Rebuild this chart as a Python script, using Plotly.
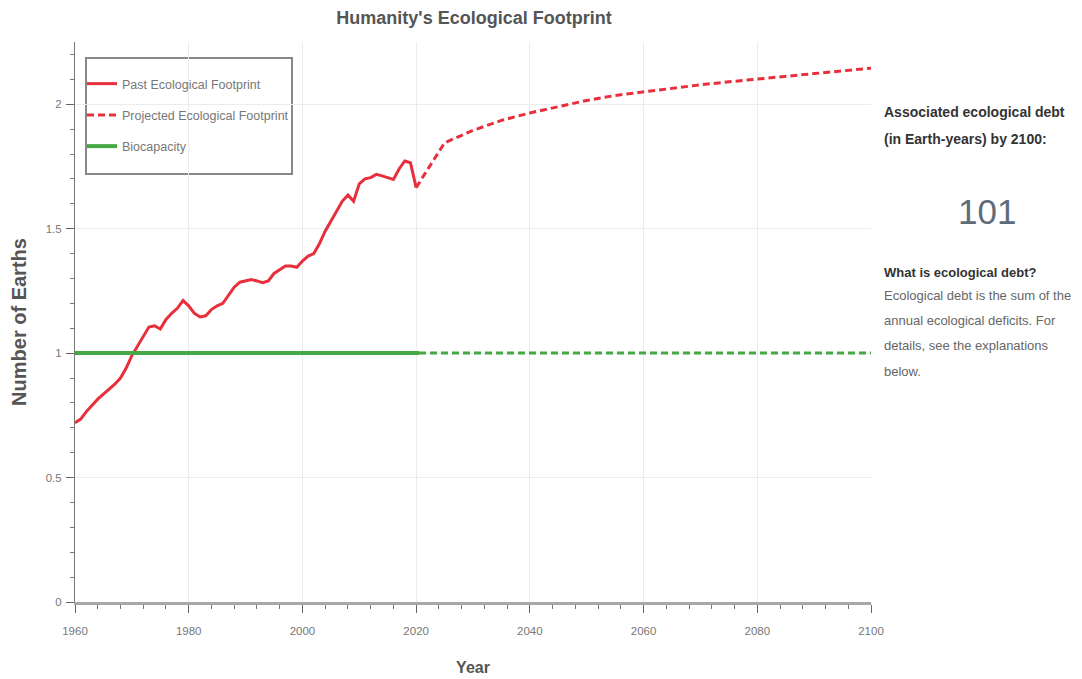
import plotly.graph_objects as go

# ---- data ----
past_years = list(range(1960, 2021))
past_values = [0.72, 0.735, 0.765, 0.79, 0.815, 0.835, 0.855, 0.875, 0.90, 0.94,
               0.99, 1.03, 1.065, 1.105, 1.11, 1.097, 1.135, 1.16, 1.18, 1.211,
               1.19, 1.16, 1.145, 1.15, 1.175, 1.19, 1.20, 1.23, 1.265, 1.285,
               1.29, 1.296, 1.29, 1.283, 1.29, 1.32, 1.335, 1.35, 1.35, 1.345,
               1.37, 1.39, 1.40, 1.44, 1.49, 1.53, 1.575, 1.61, 1.635, 1.61,
               1.68, 1.70, 1.705, 1.718, 1.712, 1.705, 1.698, 1.74, 1.772, 1.765,
               1.665]
proj_years = [2020, 2025, 2030, 2035, 2040, 2045, 2050, 2055, 2060, 2065, 2070,
              2075, 2080, 2085, 2090, 2095, 2100]
proj_values = [1.665, 1.845, 1.895, 1.935, 1.965, 1.99, 2.015, 2.035, 2.05, 2.065,
               2.078, 2.09, 2.10, 2.112, 2.123, 2.134, 2.145]
bio_hist_years = [1960, 2020.5]
bio_hist_values = [1.0, 1.0]
bio_proj_years = [2020.5, 2100]
bio_proj_values = [1.0, 1.0]

x_ticks = [1960, 1980, 2000, 2020, 2040, 2060, 2080, 2100]
y_ticks = [0, 0.5, 1, 1.5, 2]
y_tick_labels = ["0", "0.5", "1", "1.5", "2"]

RED = "#e8303c"
GREEN = "#45a845"
FONT = "Liberation Sans, Arial, sans-serif"

fig = go.Figure()
fig.add_trace(go.Scatter(x=past_years, y=past_values, mode="lines",
                         name="Past Ecological Footprint", legendgroup="a",
                         line=dict(color=RED, width=3)))
fig.add_trace(go.Scatter(x=proj_years, y=proj_values, mode="lines",
                         name="Projected Ecological Footprint", legendgroup="b",
                         line=dict(color=RED, width=3, dash="7px,4px")))
fig.add_trace(go.Scatter(x=bio_hist_years, y=bio_hist_values, mode="lines",
                         name="Biocapacity", legendgroup="c",
                         line=dict(color=GREEN, width=4)))
fig.add_trace(go.Scatter(x=bio_proj_years, y=bio_proj_values, mode="lines",
                         name="Biocapacity", legendgroup="c", showlegend=False,
                         line=dict(color=GREEN, width=3, dash="7px,4px")))

# page body has an 8px margin; layout below is expressed in screen pixels
OFF = 8
W, H = 1074, 671
PL, PR, PT, PB = 75, 871, 42, 602          # plot area in screen px
L, R, T, B = PL - OFF, W - (PR - OFF), PT - OFF, H - (PB - OFF)
pw, ph = PR - PL, PB - PT


def px_x(x):
    return (x - PL) / pw


def px_y(y):
    return (PB - y) / ph


fig.update_layout(
    width=W, height=H,
    margin=dict(l=L, r=R, t=T, b=B, autoexpand=False),
    paper_bgcolor="white", plot_bgcolor="white",
    font=dict(family=FONT, color="#666"),
    title=dict(text="<b>Humanity's Ecological Footprint</b>",
               x=(474 - OFF) / W, xanchor="center",
               y=(H - (18 - OFF)) / H, yanchor="middle", yref="container",
               font=dict(size=18, color="#555")),
    showlegend=True,
    legend=dict(x=px_x(82), y=px_y(69), xanchor="left", yanchor="top",
                bgcolor="rgba(0,0,0,0)", borderwidth=0,
                font=dict(size=12.5, color="#777"), itemwidth=30,
                tracegroupgap=12),
    shapes=[dict(type="rect", xref="paper", yref="paper",
                 x0=px_x(86), x1=px_x(292), y0=px_y(58), y1=px_y(174),
                 line=dict(color="#888", width=2), fillcolor="white",
                 layer="below")],
)

fig.update_xaxes(
    range=[1960, 2100], tickvals=x_ticks, ticktext=[str(v) for v in x_ticks],
    showgrid=True, gridcolor="#ececec", gridwidth=1,
    showline=True, linecolor="#a8a8a8", linewidth=3,
    ticks="outside", ticklen=8, tickcolor="#666", tickwidth=1,
    tickfont=dict(size=11.5, color="#777"), ticklabelstandoff=8,
    minor=dict(dtick=4, ticks="outside", ticklen=4, tickcolor="#777", showgrid=False),
    zeroline=False,
    title=dict(text="<b>Year</b>", font=dict(size=16, color="#555"), standoff=27),
)
fig.update_yaxes(
    range=[0, 2.25], tickvals=y_ticks, ticktext=y_tick_labels,
    showgrid=True, gridcolor="#ececec", gridwidth=1,
    showline=True, linecolor="#777", linewidth=1,
    ticks="outside", ticklen=8, tickcolor="#666", tickwidth=1,
    tickfont=dict(size=11.5, color="#777"), ticklabelstandoff=2,
    minor=dict(dtick=0.1, ticks="outside", ticklen=4, tickcolor="#777", showgrid=False),
    zeroline=False,
    title=dict(text="<b>Number of Earths</b>", font=dict(size=20, color="#555"), standoff=20),
)

side = [
    ("<b>Associated ecological debt</b>", 112, 14, "#333"),
    ("<b>(in Earth-years) by 2100:</b>", 139, 14, "#333"),
    ("<b>What is ecological debt?</b>", 272, 13, "#333"),
    ("Ecological debt is the sum of the", 295, 13, "#666"),
    ("annual ecological deficits. For", 320, 13, "#666"),
    ("details, see the explanations", 345, 13, "#666"),
    ("below.", 371, 13, "#666"),
]
for text, ypx, size, color in side:
    fig.add_annotation(text=text, xref="paper", yref="paper",
                       x=px_x(882), y=px_y(ypx), xanchor="left", yanchor="middle",
                       showarrow=False, font=dict(size=size, color=color, family=FONT))
fig.add_annotation(text="101", xref="paper", yref="paper",
                   x=px_x(987), y=px_y(211), xanchor="center", yanchor="middle",
                   showarrow=False, font=dict(size=35, color="#5e6b7a", family=FONT))

fig.write_html("out.html")
